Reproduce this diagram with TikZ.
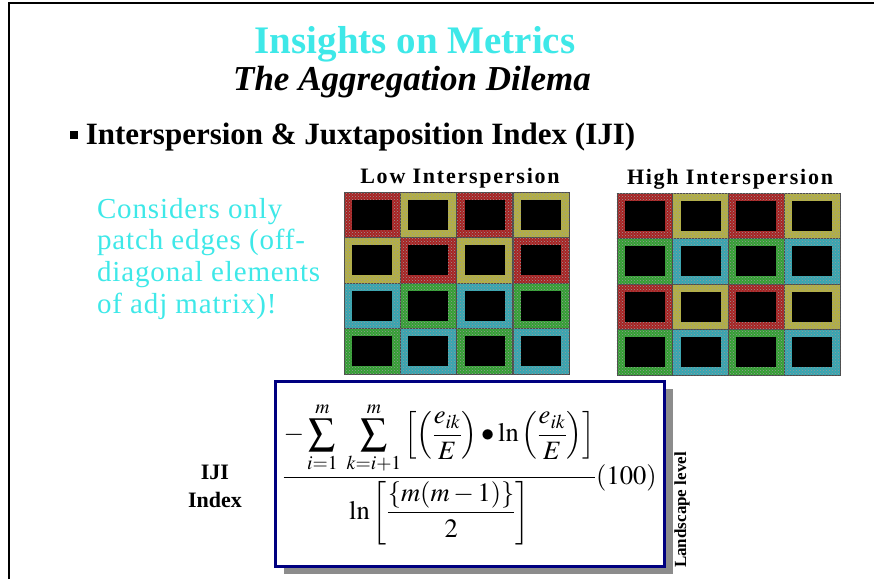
\documentclass[tikz,border=0pt]{standalone}
\usepackage{mathptmx}
\usepackage{fontspec}
\setmainfont{Liberation Serif}
\usetikzlibrary{positioning, patterns, shadows}
\definecolor{slidecyan}{HTML}{3EE8E8}
\definecolor{slidenavy}{HTML}{000080}
\definecolor{patchred}{HTML}{A82222}
\definecolor{patchyellow}{HTML}{B4B042}
\definecolor{patchcyan}{HTML}{35A6B2}
\definecolor{patchgreen}{HTML}{33A033}

\begin{document}
\begin{tikzpicture}[
    x=1pt, y=-1pt,
    every node/.style={inner sep=0pt, outer sep=0pt},
    heading/.style={font=\fontsize{39}{44}\selectfont\bfseries, text=slidecyan},
    subheading/.style={font=\fontsize{35}{40}\selectfont\bfseries\itshape},
    bullet/.style={font=\fontsize{31}{36}\selectfont\bfseries},
    gridlabel/.style={font=\fontsize{22}{26}\selectfont\bfseries\addfontfeatures{LetterSpace=8}},
    note/.style={font=\fontsize{29}{31.7}\selectfont\addfontfeatures{LetterSpace=3}, text=slidecyan, align=left},
    patch/.style={minimum width=56pt, minimum height=45.5pt, draw=black!70, line width=0.5pt, postaction={pattern=crosshatch dots, pattern color=black!40}},
    core/.style={fill=black, minimum width=40pt, minimum height=30pt},
    ijibox/.style={draw=slidenavy, line width=3pt, fill=white, minimum width=389pt, minimum height=185pt, drop shadow={shadow xshift=9pt, shadow yshift=-8pt, fill=black!45, opacity=1}},
    sidelabel/.style={font=\fontsize{22}{26}\selectfont\bfseries}
]
    \useasboundingbox (0,0) rectangle (874,579);
    \draw[line width=1.5pt] (9,579) -- (9,3) -- (874,3);

    \node[heading, anchor=base] (title) at (415,53) {Insights on Metrics};
    \node[subheading, anchor=base] (subtitle) at (412,90) {The Aggregation Dilema};
    \node[bullet, anchor=base west] (item) at (70,144) {\rule[0.16em]{0.26em}{0.26em} Interspersion \& Juxtaposition Index (IJI)};

    \node[note, anchor=north west] (note) at (97,198) {Considers only\\patch edges (off-\\diagonal elements\\of adj matrix)!};

    % low interspersion grid
    \foreach \c [count=\n from 0] in {patchred,patchyellow,patchred,patchyellow,
                                      patchyellow,patchred,patchyellow,patchred,
                                      patchcyan,patchgreen,patchcyan,patchgreen,
                                      patchgreen,patchcyan,patchgreen,patchcyan}{
        \pgfmathtruncatemacro{\col}{mod(\n,4)}
        \pgfmathtruncatemacro{\row}{div(\n,4)}
        \node[patch, fill=\c] (low-\row-\col) at ({372.1+56.25*\col}, {214.75+45.5*\row}) {};
        \node[core] (lowcore-\row-\col) at (low-\row-\col) {};
    }
    % high interspersion grid
    \foreach \c [count=\n from 0] in {patchred,patchyellow,patchred,patchyellow,
                                      patchgreen,patchcyan,patchgreen,patchcyan,
                                      patchred,patchyellow,patchred,patchyellow,
                                      patchgreen,patchcyan,patchgreen,patchcyan}{
        \pgfmathtruncatemacro{\col}{mod(\n,4)}
        \pgfmathtruncatemacro{\row}{div(\n,4)}
        \node[patch, fill=\c] (high-\row-\col) at ({644.9+55.75*\col}, {215.75+45.5*\row}) {};
        \node[core] (highcore-\row-\col) at (high-\row-\col) {};
    }

    \node[gridlabel, anchor=base] (lowlabel) at (460,183) {Low Interspersion};
    \node[gridlabel, anchor=base] (highlabel) at (730,184) {High Interspersion};

    \node[ijibox] (formula) at (469.5,473.5) {\fontsize{26.5}{30}\selectfont$\displaystyle
        \frac{\displaystyle -\sum_{i=1}^{m}\;\sum_{k=i+1}^{m}\left[\left(\frac{e_{ik}}{E}\right)\bullet\ln\left(\frac{e_{ik}}{E}\right)\right]}
             {\displaystyle \ln\left[\frac{\{m(m-1)\}}{2}\right]}(100)$};

    \node[sidelabel, anchor=base] (ijilabel) at (215,479) {IJI};
    \node[sidelabel, anchor=base] (indexlabel) at (215,507) {Index};

    \node[font=\fontsize{17}{20}\selectfont\bfseries, rotate=90] (level) at (682,510) {Landscape level};
\end{tikzpicture}
\end{document}
